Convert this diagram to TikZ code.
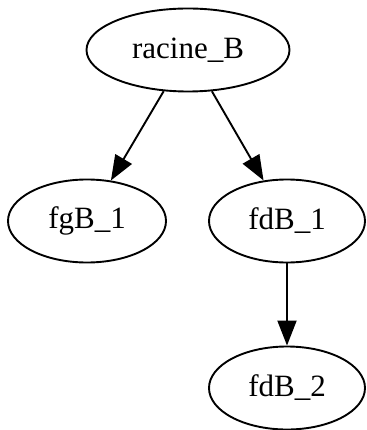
\documentclass[tikz,border=0pt]{standalone}
\usepackage{fontspec}
\setmainfont{Liberation Serif}
\usetikzlibrary{shapes.geometric,arrows.meta}
\begin{document}
\begin{tikzpicture}[x=1pt,y=-1pt,
  gnode/.style={draw, ellipse, line width=1.9pt, inner sep=0pt, minimum height=83pt, font=\fontsize{31}{36}\selectfont},
  garrow/.style={line width=1.9pt, -{Triangle[length=25pt,width=19pt]}}]
\useasboundingbox (0,0) rectangle (366,430);
\node[gnode, minimum width=203pt] (r) at (188,50) {racine\_B};
\node[gnode, minimum width=158pt] (fg) at (87,221) {fgB\_1};
\node[gnode, minimum width=156pt] (fd1) at (287,221) {fdB\_1};
\node[gnode, minimum width=156pt] (fd2) at (287,388) {fdB\_2};
\draw[garrow] (r) -- (fg);
\draw[garrow] (r) -- (fd1);
\draw[garrow] (fd1) -- (fd2);
\end{tikzpicture}
\end{document}
